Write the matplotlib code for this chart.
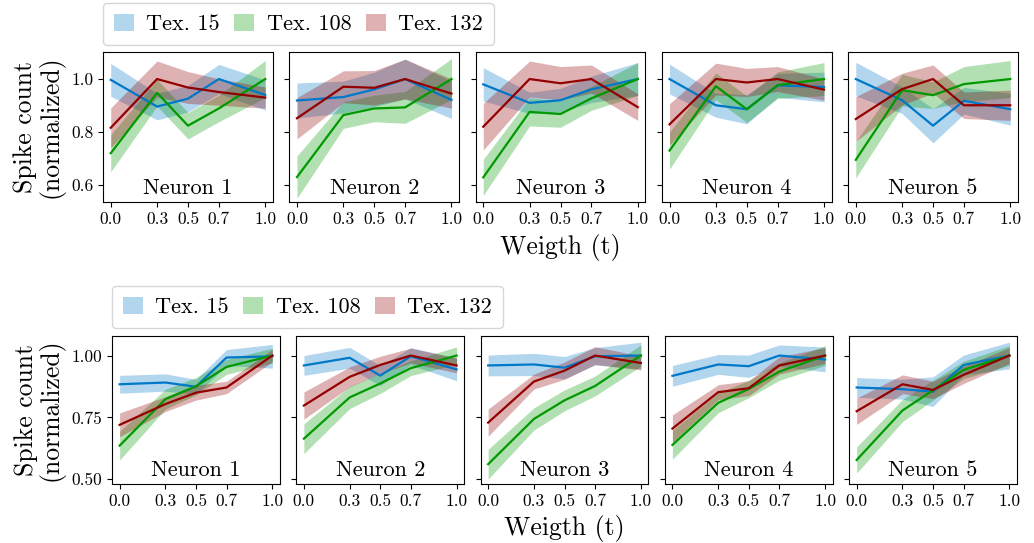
import matplotlib
matplotlib.use("Agg")
import matplotlib.pyplot as plt
from matplotlib.patches import Patch
import numpy as np

plt.rcParams['font.family'] = ['cmr10', 'DejaVu Serif']
plt.rcParams['mathtext.fontset'] = 'cm'
plt.rcParams['axes.formatter.use_mathtext'] = True

weights = [0.0, 0.3, 0.5, 0.7, 1.0]
xtick_labels = ['0.0', '0.3', '0.5', '0.7', '1.0']
neurons = ['Neuron 1', 'Neuron 2', 'Neuron 3', 'Neuron 4', 'Neuron 5']
textures = ['Tex. 15', 'Tex. 108', 'Tex. 132']

# ---- top row (means and half-widths of bands) ----
top_mean_tex15 = [[0.997, 0.896, 0.926, 1.000, 0.940],
                  [0.919, 0.932, 0.961, 1.000, 0.921],
                  [0.980, 0.910, 0.920, 0.961, 1.000],
                  [1.000, 0.901, 0.886, 0.976, 0.970],
                  [1.000, 0.920, 0.824, 0.918, 0.886]]
top_std_tex15 = [[0.062, 0.050, 0.050, 0.055, 0.057],
                 [0.066, 0.060, 0.065, 0.075, 0.070],
                 [0.063, 0.040, 0.045, 0.050, 0.062],
                 [0.056, 0.045, 0.055, 0.045, 0.056],
                 [0.063, 0.050, 0.065, 0.050, 0.060]]
top_mean_tex108 = [[0.720, 0.948, 0.824, 0.889, 1.000],
                   [0.630, 0.864, 0.889, 0.893, 1.000],
                   [0.629, 0.876, 0.868, 0.927, 1.000],
                   [0.730, 0.973, 0.886, 0.977, 1.000],
                   [0.695, 0.958, 0.939, 0.981, 1.000]]
top_std_tex108 = [[0.070, 0.050, 0.050, 0.050, 0.070],
                  [0.080, 0.050, 0.050, 0.060, 0.077],
                  [0.068, 0.053, 0.050, 0.045, 0.062],
                  [0.070, 0.050, 0.050, 0.050, 0.062],
                  [0.068, 0.060, 0.050, 0.066, 0.070]]
top_mean_tex132 = [[0.816, 1.000, 0.968, 0.951, 0.930],
                   [0.852, 0.971, 0.967, 1.000, 0.945],
                   [0.820, 1.000, 0.984, 1.000, 0.894],
                   [0.829, 1.000, 0.987, 1.000, 0.960],
                   [0.849, 0.962, 1.000, 0.901, 0.901]]
top_std_tex132 = [[0.075, 0.068, 0.060, 0.050, 0.040],
                  [0.078, 0.060, 0.065, 0.075, 0.055],
                  [0.088, 0.068, 0.063, 0.053, 0.050],
                  [0.078, 0.060, 0.053, 0.047, 0.040],
                  [0.084, 0.060, 0.053, 0.050, 0.057]]

# ---- bottom row ----
bot_mean_tex15 = [[0.884, 0.891, 0.874, 0.992, 0.997],
                  [0.960, 0.991, 0.919, 0.997, 0.944],
                  [0.960, 0.964, 0.951, 0.997, 1.000],
                  [0.918, 0.964, 0.957, 1.000, 0.984],
                  [0.871, 0.864, 0.854, 0.962, 1.000]]
bot_std_tex15 = [[0.036, 0.035, 0.030, 0.032, 0.048],
                 [0.040, 0.042, 0.040, 0.035, 0.046],
                 [0.042, 0.045, 0.045, 0.035, 0.054],
                 [0.042, 0.040, 0.045, 0.043, 0.050],
                 [0.040, 0.040, 0.060, 0.040, 0.054]]
bot_mean_tex108 = [[0.636, 0.824, 0.876, 0.954, 1.000],
                   [0.664, 0.831, 0.887, 0.949, 1.000],
                   [0.561, 0.744, 0.819, 0.877, 1.000],
                   [0.639, 0.809, 0.865, 0.935, 1.000],
                   [0.578, 0.778, 0.860, 0.942, 1.000]]
bot_std_tex108 = [[0.058, 0.040, 0.035, 0.030, 0.030],
                  [0.060, 0.045, 0.040, 0.030, 0.035],
                  [0.060, 0.045, 0.042, 0.040, 0.043],
                  [0.058, 0.040, 0.035, 0.035, 0.040],
                  [0.053, 0.045, 0.040, 0.035, 0.040]]
bot_mean_tex132 = [[0.720, 0.804, 0.850, 0.871, 1.000],
                   [0.798, 0.914, 0.962, 1.000, 0.960],
                   [0.729, 0.895, 0.939, 1.000, 0.970],
                   [0.705, 0.852, 0.868, 0.960, 1.000],
                   [0.775, 0.884, 0.861, 0.922, 1.000]]
bot_std_tex132 = [[0.048, 0.030, 0.030, 0.025, 0.025],
                  [0.055, 0.040, 0.035, 0.030, 0.030],
                  [0.055, 0.030, 0.035, 0.036, 0.028],
                  [0.055, 0.030, 0.030, 0.035, 0.032],
                  [0.053, 0.038, 0.035, 0.035, 0.032]]

top_yticks = [0.6, 0.8, 1.0]
top_ytick_labels = ['0.6', '0.8', '1.0']
bot_yticks = [0.50, 0.75, 1.00]
bot_ytick_labels = ['0.50', '0.75', '1.00']

colors = ['#0078c8', '#009a00', '#930000']

W, H = 1034, 543
fig = plt.figure(figsize=(W / 100, H / 100), dpi=100)


def draw_row(left, right, bottom, top, wspace, means, stds, yticks, ylabels, ylim,
             legend_xy, xlabelpad):
    gs = fig.add_gridspec(1, 5, left=left, right=right, bottom=bottom, top=top, wspace=wspace)
    axes = []
    for i in range(5):
        ax = fig.add_subplot(gs[0, i], sharey=axes[0] if axes else None)
        axes.append(ax)
        for m, s, c in zip(means, stds, colors):
            mu = np.array(m[i])
            sd = np.array(s[i])
            ax.fill_between(weights, mu - sd, mu + sd, color=c, alpha=0.3, linewidth=0)
        for m, c in zip(means, colors):
            ax.plot(weights, m[i], color=c, lw=1.6)
        ax.set_xticks(weights)
        ax.set_xticklabels(xtick_labels, fontsize=12.5)
        ax.set_xlim(-0.05, 1.05)
        ax.text(0.5, 0.025, neurons[i], transform=ax.transAxes, ha='center', va='bottom', fontsize=16)
        if i == 0:
            ax.set_yticks(yticks)
            ax.set_yticklabels(ylabels, fontsize=12.5)
            ax.set_ylim(*ylim)
            ax.set_ylabel('Spike count\n(normalized)', fontsize=18.5, linespacing=1.0, labelpad=5)
        else:
            ax.tick_params(labelleft=False)
    axes[2].set_xlabel('Weigth (t)', fontsize=18.5, labelpad=xlabelpad)
    handles = [Patch(facecolor=c, alpha=0.3, edgecolor='none') for c in colors]
    fig.legend(handles, textures, loc='upper left', bbox_to_anchor=legend_xy, ncol=3,
               fontsize=16, handlelength=0.9, handleheight=0.8, handletextpad=0.55,
               columnspacing=0.65, borderaxespad=0.0, borderpad=0.5)
    return axes


draw_row(103 / W, 1018 / W, 1 - 202 / H, 1 - 52 / H, 0.096,
         [top_mean_tex15, top_mean_tex108, top_mean_tex132],
         [top_std_tex15, top_std_tex108, top_std_tex132],
         top_yticks, top_ytick_labels, (0.536, 1.102), (103 / W, 1 - 3 / H), 5)

draw_row(112 / W, 1017 / W, 1 - 484 / H, 1 - 336 / H, 0.097,
         [bot_mean_tex15, bot_mean_tex108, bot_mean_tex132],
         [bot_std_tex15, bot_std_tex108, bot_std_tex132],
         bot_yticks, bot_ytick_labels, (0.481, 1.079), (112 / W, 1 - 286 / H), 4)

fig.savefig('out.png', dpi=100)
